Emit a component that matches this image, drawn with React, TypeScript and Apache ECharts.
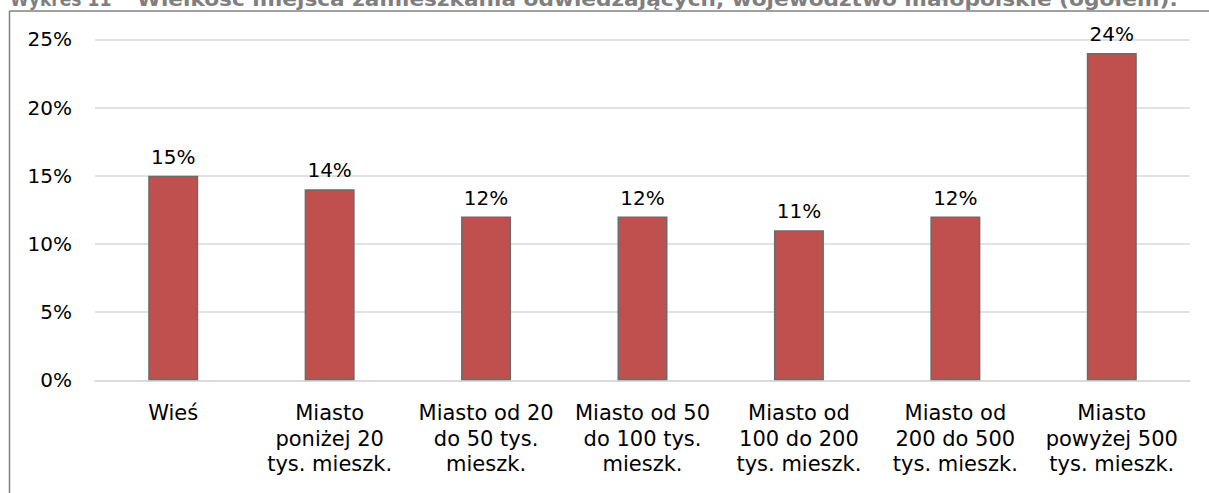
import React, { useEffect, useRef } from "react";
import * as echarts from "echarts";

const titleNumber = "Wykres 11";
const titleText = "Wielkość miejsca zamieszkania odwiedzających, województwo małopolskie (ogółem).";
const categories = [
  "Wieś",
  "Miasto\nponiżej 20\ntys. mieszk.",
  "Miasto od 20\ndo 50 tys.\nmieszk.",
  "Miasto od 50\ndo 100 tys.\nmieszk.",
  "Miasto od\n100 do 200\ntys. mieszk.",
  "Miasto od\n200 do 500\ntys. mieszk.",
  "Miasto\npowyżej 500\ntys. mieszk.",
];
const values = [15, 14, 12, 12, 11, 12, 24];
const yTicks = { min: 0, max: 25, interval: 5 };

const FONT = "'DejaVu Sans', sans-serif";

export default function App() {
  const ref = useRef<HTMLDivElement>(null);
  useEffect(() => {
    document.body.style.margin = "0";
    if (!ref.current) return;
    const chart = echarts.init(ref.current, null, { renderer: "svg" });
    chart.setOption({
      animation: false,
      backgroundColor: "#ffffff",
      grid: { left: 95, right: 19, top: 39.3, bottom: 112.7, containLabel: false },
      graphic: [
        {
          type: "line",
          shape: { x1: 9.5, y1: 11, x2: 1209, y2: 11 },
          style: { stroke: "#808080", lineWidth: 1.5 },
        },
        {
          type: "line",
          shape: { x1: 9.5, y1: 11, x2: 9.5, y2: 493 },
          style: { stroke: "#808080", lineWidth: 1.5 },
        },
        {
          type: "text",
          x: 10,
          y: -1,
          scaleX: 0.9,
          style: {
            text: titleNumber,
            font: `bold 19px ${FONT}`,
            fill: "#7f7f7f",
            verticalAlign: "middle",
            align: "left",
          },
        },
        {
          type: "text",
          x: 137,
          y: -1,
          scaleX: 1.14,
          style: {
            text: titleText,
            font: `bold 19px ${FONT}`,
            fill: "#7f7f7f",
            verticalAlign: "middle",
            align: "left",
          },
        },
      ],
      xAxis: {
        type: "category",
        data: categories,
        axisLine: { show: true, lineStyle: { color: "#d9d9d9", width: 1.5 } },
        axisTick: { show: false },
        axisLabel: {
          interval: 0,
          color: "#000000",
          fontFamily: FONT,
          fontSize: 21,
          lineHeight: 25.5,
          margin: 20,
        },
      },
      yAxis: {
        type: "value",
        min: yTicks.min,
        max: yTicks.max,
        interval: yTicks.interval,
        axisLine: { show: false },
        axisTick: { show: false },
        splitLine: { lineStyle: { color: "#d9d9d9", width: 1.5 } },
        axisLabel: {
          formatter: "{value}%",
          color: "#000000",
          fontFamily: FONT,
          fontSize: 20,
          margin: 23,
        },
      },
      series: [
        {
          type: "bar",
          data: values,
          barWidth: 50,
          itemStyle: { color: "#c0504d", borderColor: "#6b6b6b", borderWidth: 1.5 },
          label: {
            show: true,
            position: "top",
            distance: 9,
            formatter: "{c}%",
            color: "#000000",
            fontFamily: FONT,
            fontSize: 20,
          },
        },
      ],
    });
    return () => chart.dispose();
  }, []);
  return <div ref={ref} style={{ width: 1209, height: 493 }} />;
}
